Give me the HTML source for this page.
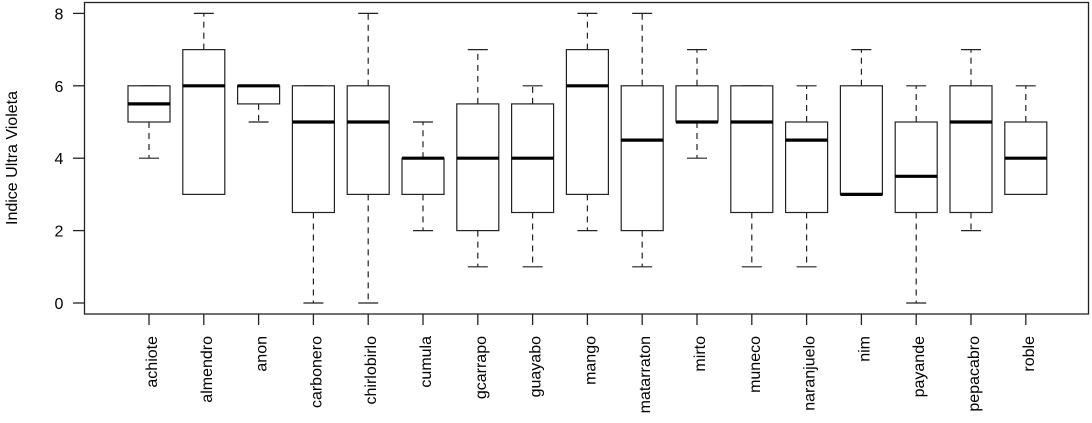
<!DOCTYPE html>
<html><head><meta charset="utf-8"><style>
html,body{margin:0;padding:0;background:#fff;}
svg{display:block;font-family:"Liberation Sans",Arial,sans-serif;}
</style></head><body>
<svg id="chart" width="1092" height="423">
<rect x="84.5" y="2.5" width="1004" height="311.5" fill="none" stroke="#222" stroke-width="1.3"/>
<text transform="translate(17,158) rotate(-90)" text-anchor="middle" font-size="16" fill="#000">Indice Ultra Violeta</text>
<g id="marks"></g>
</svg>
<script>
const categories=["achiote","almendro","anon","carbonero","chirlobirlo","cumula","gcarrapo","guayabo","mango","matarraton","mirto","muneco","naranjuelo","nim","payande","pepacabro","roble"];
const lowWhisker=[4,3,5,0,0,2,1,1,2,1,4,1,1,3,0,2,3];
const q1Values=[5,3,5.5,2.5,3,3,2,2.5,3,2,5,2.5,2.5,3,2.5,2.5,3];
const medianValues=[5.5,6,6,5,5,4,4,4,6,4.5,5,5,4.5,3,3.5,5,4];
const q3Values=[6,7,6,6,6,4,5.5,5.5,7,6,6,6,5,6,5,6,5];
const highWhisker=[6,8,6,6,8,5,7,6,8,8,7,6,6,7,6,7,6];
const yTicks=[0,2,4,6,8];

const NS="http://www.w3.org/2000/svg";
const g=document.getElementById('marks');
function y(v){return 303-v*36.2;}
function x(i){return 149+i*54.8;}
function mk(tag,attrs,parent){const e=document.createElementNS(NS,tag);for(const k in attrs)e.setAttribute(k,attrs[k]);(parent||g).appendChild(e);return e;}

yTicks.forEach(t=>{
  const tk=mk('line',{x1:73,x2:84.5,y1:y(t),y2:y(t),stroke:'#222','stroke-width':1.3});
  
  
  const tl=mk('text',{x:59,y:y(t)+6,'text-anchor':'middle','font-size':16,fill:'#000'});
  tl.textContent=t;
  
  
});

categories.forEach((c,i)=>{
  const cx=x(i),hw=21,cw=10;
  const grp=mk('g',{});
  
  
  mk('line',{x1:cx,x2:cx,y1:y(q3Values[i]),y2:y(highWhisker[i]),stroke:'#222','stroke-width':1.2,'stroke-dasharray':'6,5'},grp);
  mk('line',{x1:cx,x2:cx,y1:y(q1Values[i]),y2:y(lowWhisker[i]),stroke:'#222','stroke-width':1.2,'stroke-dasharray':'6,5'},grp);
  mk('line',{x1:cx-cw,x2:cx+cw,y1:y(highWhisker[i]),y2:y(highWhisker[i]),stroke:'#222','stroke-width':1.2},grp);
  mk('line',{x1:cx-cw,x2:cx+cw,y1:y(lowWhisker[i]),y2:y(lowWhisker[i]),stroke:'#222','stroke-width':1.2},grp);
  mk('rect',{x:cx-hw,y:y(q3Values[i]),width:2*hw,height:y(q1Values[i])-y(q3Values[i]),fill:'#fff',stroke:'#222','stroke-width':1.2},grp);
  mk('line',{x1:cx-hw,x2:cx+hw,y1:y(medianValues[i]),y2:y(medianValues[i]),stroke:'#000','stroke-width':3.2},grp);
  const tk=mk('line',{x1:cx,x2:cx,y1:314,y2:325,stroke:'#222','stroke-width':1.3});
  
  
  const tl=mk('text',{transform:'translate('+(cx+8)+',336) rotate(-90)','text-anchor':'end','font-size':16,fill:'#000'});
  tl.textContent=c;
  
  
});
</script>
</body></html>
